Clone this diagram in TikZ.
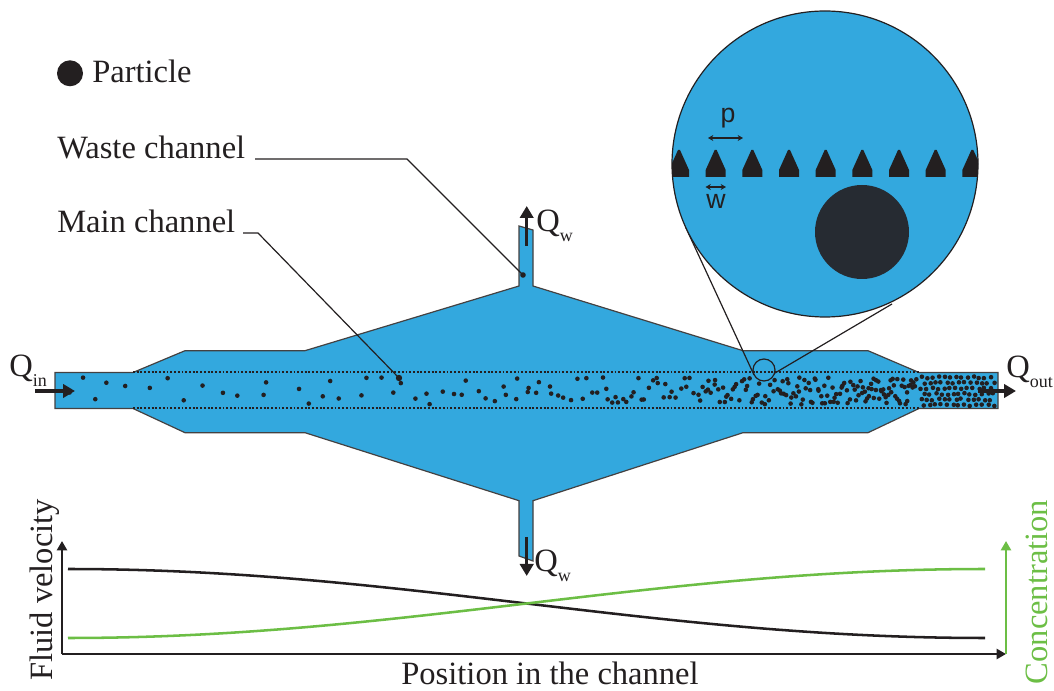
\documentclass[tikz,border=0pt]{standalone}
\usepackage{fontspec}
\setmainfont{Liberation Serif}
\newfontfamily\labelsans{Liberation Sans}
\usetikzlibrary{arrows.meta}
\definecolor{chanblue}{RGB}{51,168,222}
\definecolor{inkdark}{RGB}{35,31,32}
\definecolor{partdark}{RGB}{38,43,50}
\definecolor{concgreen}{RGB}{108,190,69}
\newcommand\qsub[1]{\raisebox{-7.5pt}{\fontsize{13.5}{14}\selectfont #1}}

\begin{document}
\begin{tikzpicture}[x=0.75pt,y=-0.75pt,
  lbl/.style={font=\fontsize{24.4}{28}\selectfont, inner sep=0pt, text=inkdark},
  dimlbl/.style={font=\labelsans\fontsize{20}{22}\selectfont, inner sep=0pt, text=inkdark},
  wall/.style={draw=inkdark!85, line width=0.9pt},
  guide/.style={draw=inkdark, line width=1.5pt, dash pattern=on 1.4pt off 1.4pt},
  pointer/.style={draw=inkdark, line width=0.9pt},
  flowarrow/.style={draw=inkdark, line width=2.3pt, -{Triangle[length=9pt,width=10pt]}},
  axisarrow/.style={line width=2pt, -{Triangle[length=7pt,width=7.5pt]}},
  dimarrow/.style={draw=inkdark, line width=1pt, {Stealth[length=4pt,width=4.5pt]}-{Stealth[length=4pt,width=4.5pt]}},
  pillar/.style={fill=inkdark},
  dot/.style={fill=inkdark},
]
\useasboundingbox (0,0) rectangle (1054,691);

% ---------- channel body ----------
\path[wall, fill=chanblue]
  (55,372.5) -- (133,372.5) -- (185,350.7) -- (305,350.7) -- (519,286)
  -- (519,226) -- (533,230) -- (533,286) -- (743,350.7) -- (868,350.7)
  -- (919,372.5) -- (998,372.5) -- (998,408.5) -- (919,408.5) -- (868,432.7)
  -- (743,432.7) -- (533,500.7) -- (533,561) -- (519,556) -- (519,500.7)
  -- (305,432.7) -- (185,432.7) -- (133,408.5) -- (55,408.5) -- cycle;

% dotted borders of the main channel
\coordinate (gtl) at (133,372.5); \coordinate (gtr) at (919,372.5);
\coordinate (gbl) at (133,408.5); \coordinate (gbr) at (919,408.5);
\draw[guide] (gtl) -- (gtr);
\draw[guide] (gbl) -- (gbr);

% ---------- particles, denser towards the outlet ----------
% stratified in x so that the dots spread evenly within each stretch
\pgfmathsetseed{4242}
\foreach \xa/\xb/\n in {60/128/5, 138/300/9, 300/400/8, 400/500/11, 500/600/18,
                        600/700/28, 700/780/38, 780/860/50, 860/917/46} {
  \foreach \i in {1,...,\n} {
    \pgfmathsetmacro\px{\xa+(\i-rnd)*(\xb-\xa)/\n}
    \pgfmathsetmacro\py{377.5+27*rnd}
    \fill[dot] (\px,\py) circle (2.3);
  }
}
\foreach \c in {0,...,12} {
  \foreach \r in {0,...,5} {
    \pgfmathsetmacro\px{921+5.8*\c+2.9*mod(\r,2)+2.2*(rnd-0.5)}
    \pgfmathsetmacro\py{377.5+5.5*\r+2*(rnd-0.5)}
    \fill[dot] (\px,\py) circle (2.3);
  }
}

% ---------- flow arrows ----------
\coordinate (inA) at (35,391);   \coordinate (inB) at (75,391);
\coordinate (outA) at (978,391); \coordinate (outB) at (1016,391);
\coordinate (wtA) at (526.7,246); \coordinate (wtB) at (526.7,206);
\coordinate (wbA) at (526.7,537); \coordinate (wbB) at (526.7,576);
\draw[flowarrow] (inA) -- (inB);
\draw[flowarrow] (outA) -- (outB);
\draw[flowarrow] (wtA) -- (wtB);
\draw[flowarrow] (wbA) -- (wbB);
\node[lbl, anchor=base west] (qin)  at (9,377)    {Q\qsub{in}};
\node[lbl, anchor=base west] (qout) at (1006,378) {Q\qsub{out}};
\node[lbl, anchor=base west] (qwt)  at (536,232)  {Q\qsub{w}};
\node[lbl, anchor=base west] (qwb)  at (534,571)  {Q\qsub{w}};

% ---------- legend and callouts ----------
\fill[inkdark] (70,73.3) circle (13);
\node[lbl, anchor=base west] (particle) at (92,83) {Particle};
\node[lbl, anchor=base west] (waste) at (57,159) {Waste channel};
\node[lbl, anchor=base west] (main)  at (57,233) {Main channel};

\coordinate (wasteK) at (255,159); \coordinate (wasteM) at (407,159);
\coordinate (wasteEnd) at (523,275);
\coordinate (mainK) at (243,233); \coordinate (mainM) at (258,233);
\coordinate (mainEnd) at (399,378);
\draw[pointer] (wasteK) -- (wasteM) -- (wasteEnd);
\draw[pointer] (mainK) -- (mainM) -- (mainEnd);
\fill[dot] (wasteEnd) circle (2.8);
\fill[dot] (mainEnd) circle (3.2);

% ---------- magnified view ----------
\coordinate (lensC) at (764,370);
\coordinate (lensL) at (754,375);   \coordinate (zoomL) at (686,228);
\coordinate (lensR) at (775,373);   \coordinate (zoomR) at (892,304);
\draw[pointer] (lensL) -- (zoomL);
\draw[pointer] (lensR) -- (zoomR);
\draw[inkdark, line width=0.9pt] (lensC) circle (11);

\coordinate (zoomC) at (825,164);
\fill[chanblue] (zoomC) circle (153);
\begin{scope}
  \clip (zoomC) circle (153);
  \foreach \k in {0,...,8} {
    \pgfmathsetmacro\xo{669+36.67*\k}
    \fill[pillar] (\xo,177) -- (\xo,170) -- (\xo+9,150) -- (\xo+11,150)
                  -- (\xo+20,170) -- (\xo+20,177) -- cycle;
  }
\end{scope}
\draw[inkdark, line width=0.9pt] (zoomC) circle (153);
\fill[partdark] (862,232) circle (47);

\coordinate (pA) at (708,138); \coordinate (pB) at (743,138);
\coordinate (wA) at (705.5,187); \coordinate (wB) at (726,187);
\draw[dimarrow] (pA) -- (pB);
\draw[dimarrow] (wA) -- (wB);
\node[dimlbl, anchor=base] (plbl) at (728,123) {p};
\node[dimlbl, anchor=base] (wlbl) at (716,209) {w};

% ---------- profile chart ----------
\coordinate (origin) at (62,654);
\coordinate (ytop) at (62,541);
\coordinate (xend) at (1006,654);
\coordinate (ctop) at (1006,541);
\draw[axisarrow, draw=inkdark] (origin) -- (ytop);
\draw[axisarrow, draw=inkdark] (origin) -- (xend);
\draw[axisarrow, draw=concgreen] (xend) -- (ctop);

% velocity and concentration profiles (half-period cosines)
\draw[inkdark, line width=1.9pt]
  plot[domain=68:985, samples=80] (\x, {603.5-34.5*cos((\x-68)*0.19629)});
\draw[concgreen, line width=1.9pt]
  plot[domain=68:985, samples=80] (\x, {603.5+34.5*cos((\x-68)*0.19629)});

\node[lbl, anchor=base] (xlabel) at (550,684) {Position in the channel};
\node[lbl, anchor=base, rotate=90] (vlabel) at (52,590) {Fluid velocity};
\node[lbl, anchor=base, rotate=90, text=concgreen] (clabel) at (1047,592) {Concentration};
\end{tikzpicture}
\end{document}
